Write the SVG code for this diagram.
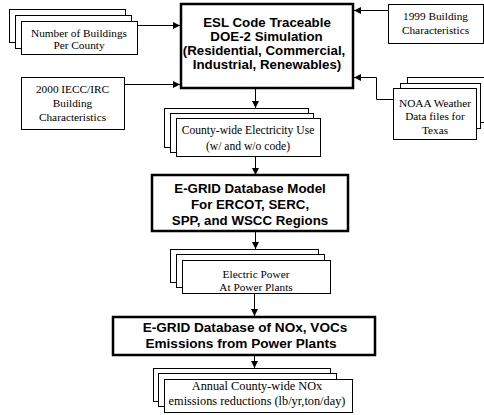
<svg xmlns="http://www.w3.org/2000/svg" width="484" height="415" viewBox="0 0 484 415">
<style>
.box{fill:#fff;stroke:#000;stroke-width:1}
.main{fill:#fff;stroke:#000;stroke-width:2.5}
.t{font-family:"Liberation Serif","Times New Roman",serif;font-size:11.3px;fill:#000;text-anchor:middle}
.b{font-family:"Liberation Sans",Arial,sans-serif;font-weight:bold;font-size:13.3px;fill:#000;text-anchor:middle}
.c{fill:none;stroke:#000;stroke-width:1}
</style>
<defs>
<marker id="ah" viewBox="0 0 10 10" refX="10" refY="5" markerWidth="7" markerHeight="7" markerUnits="userSpaceOnUse" orient="auto">
<path d="M0,0L10,5L0,10z" fill="#000"/>
</marker>
</defs>
<rect width="484" height="415" fill="#fff"/>
<g id="connectors">
<path class="c" d="M137,25.5H180" marker-end="url(#ah)"/>
<path class="c" d="M124,84.5H180" marker-end="url(#ah)"/>
<path class="c" d="M388,10.5H354" marker-end="url(#ah)"/>
<path class="c" d="M393,99.5H376.5V77.5H354" marker-end="url(#ah)"/>
<path class="c" d="M255.5,89V108" marker-end="url(#ah)"/>
<path class="c" d="M255.5,157V175" marker-end="url(#ah)"/>
<path class="c" d="M255.5,232V249" marker-end="url(#ah)"/>
<path class="c" d="M254.5,293V316" marker-end="url(#ah)"/>
<path class="c" d="M254.5,356V368" marker-end="url(#ah)"/>
</g>
<g id="buildings">
<rect class="box" x="9.5" y="9.5" width="116" height="33"/>
<rect class="box" x="15.5" y="15.5" width="116" height="33"/>
<rect class="box" x="21.5" y="21.5" width="116" height="33"/>
<text class="t" x="79" y="36.7">Number of Buildings</text>
<text class="t" x="79" y="48.5">Per County</text>
</g>
<g id="iecc">
<rect class="box" x="21.5" y="77.5" width="103" height="52"/>
<text class="t" x="72.5" y="93">2000 IECC/IRC</text>
<text class="t" x="72.5" y="107">Building</text>
<text class="t" x="72.5" y="121">Characteristics</text>
</g>
<g id="main">
<rect class="main" x="181" y="4" width="172" height="84"/>
<text class="b" x="267" y="27">ESL Code Traceable</text>
<text class="b" x="266.5" y="41">DOE-2 Simulation</text>
<text class="b" x="264" y="55">(Residential, Commercial,</text>
<text class="b" x="267" y="69">Industrial, Renewables)</text>
</g>
<g id="b1999">
<rect class="box" x="388.5" y="4.5" width="95" height="39"/>
<text class="t" x="435.5" y="19.5">1999 Building</text>
<text class="t" x="435.5" y="34">Characteristics</text>
</g>
<g id="noaa">
<rect class="box" x="407.5" y="77.5" width="83" height="45"/>
<rect class="box" x="400.5" y="83.5" width="80" height="45"/>
<rect class="box" x="393.5" y="88.5" width="83" height="51"/>
<text class="t" x="435" y="106.5">NOAA Weather</text>
<text class="t" x="435" y="120">Data files for</text>
<text class="t" x="435" y="133.5">Texas</text>
</g>
<g id="county">
<rect class="box" x="164.5" y="108.5" width="144" height="39"/>
<rect class="box" x="170.5" y="113.5" width="143" height="39"/>
<rect class="box" x="176.5" y="118.5" width="144" height="38"/>
<text class="t" x="248" y="134" style="font-size:11.6px">County-wide Electricity Use</text>
<text class="t" x="248" y="149.5" style="font-size:11.6px">(w/ and w/o code)</text>
</g>
<g id="egrid">
<rect class="main" x="152" y="175" width="196" height="56"/>
<text class="b" x="250" y="193">E-GRID Database Model</text>
<text class="b" x="250" y="209">For ERCOT, SERC,</text>
<text class="b" x="250" y="225">SPP, and WSCC Regions</text>
</g>
<g id="power">
<rect class="box" x="170.5" y="249.5" width="148" height="33"/>
<rect class="box" x="176.5" y="254.5" width="148" height="33"/>
<rect class="box" x="182.5" y="260.5" width="148" height="33"/>
<text class="t" x="256" y="277.5">Electric Power</text>
<text class="t" x="256" y="291">At Power Plants</text>
</g>
<g id="nox">
<rect class="main" x="113" y="317" width="262" height="38"/>
<text class="b" x="245" y="332" style="font-size:13.6px">E-GRID Database of NOx, VOCs</text>
<text class="b" x="241" y="348" style="font-size:13.6px">Emissions from Power Plants</text>
</g>
<g id="annual">
<rect class="box" x="153.5" y="368.5" width="177" height="33"/>
<rect class="box" x="158.5" y="373.5" width="178" height="33"/>
<rect class="box" x="164.5" y="379.5" width="188" height="33"/>
<text class="t" x="257" y="390" style="font-size:12.3px">Annual County-wide NOx</text>
<text class="t" x="257" y="404.5" style="font-size:12.3px">emissions reductions (lb/yr,ton/day)</text>
</g>
</svg>
